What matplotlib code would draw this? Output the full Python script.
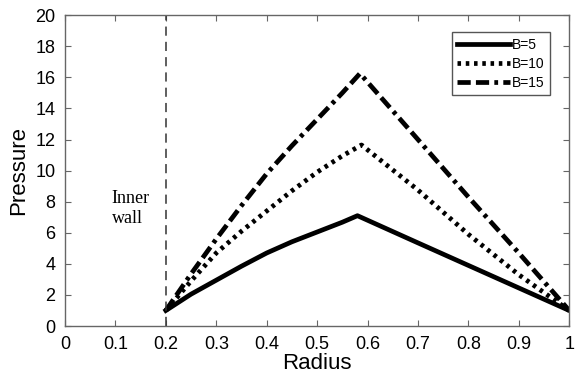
import matplotlib
matplotlib.use("Agg")
import matplotlib.pyplot as plt

# Radial pressure profiles for three values of B
radius_b5 = [0.2, 0.25, 0.3, 0.35, 0.4, 0.45, 0.5, 0.55, 0.58, 0.7, 0.8, 0.9, 1.0]
pressure_b5 = [1.0, 2.05, 2.95, 3.85, 4.7, 5.42, 6.05, 6.68, 7.1, 5.35, 3.9, 2.45, 1.0]

radius_b10 = [0.2, 0.25, 0.3, 0.35, 0.4, 0.45, 0.5, 0.55, 0.588, 0.7, 0.8, 0.9, 1.0]
pressure_b10 = [1.0, 2.9, 4.7, 6.1, 7.4, 8.7, 9.9, 10.95, 11.65, 8.75, 5.9, 3.3, 1.0]

radius_b15 = [0.2, 0.25, 0.3, 0.35, 0.4, 0.45, 0.5, 0.55, 0.585, 0.7, 0.8, 0.9, 1.0]
pressure_b15 = [1.0, 3.35, 5.6, 7.75, 9.8, 11.6, 13.3, 15.0, 16.25, 12.0, 8.3, 4.7, 1.0]

labels = ["B=5", "B=10", "B=15"]
wall_radius = 0.2

xticks = [0, 0.1, 0.2, 0.3, 0.4, 0.5, 0.6, 0.7, 0.8, 0.9, 1]
xticklabels = ["0", "0.1", "0.2", "0.3", "0.4", "0.5", "0.6", "0.7", "0.8", "0.9", "1"]
yticks = list(range(0, 21, 2))

plt.rcParams["font.family"] = ["Liberation Sans", "DejaVu Sans"]

fig = plt.figure(figsize=(5.75, 3.8), dpi=100)
ax = fig.add_axes([0.113, 0.142, 0.877, 0.818])

lw = 3.4
ax.plot(radius_b5, pressure_b5, color="black", lw=lw, solid_joinstyle="round",
        label=labels[0])
ax.plot(radius_b10, pressure_b10, color="black", lw=lw, linestyle=(0, (0.75, 1.0)),
        dash_capstyle="butt", label=labels[1])
ax.plot(radius_b15, pressure_b15, color="black", lw=lw,
        linestyle=(0, (2.8, 1.1, 2.8, 1.1, 0.8, 1.1)), dash_capstyle="butt",
        label=labels[2])

ax.axvline(wall_radius, color="#333333", lw=1.1, linestyle=(0, (6, 4)))
ax.text(0.093, 8.75, "Inner\nwall", family="Liberation Serif", fontsize=13,
        ha="left", va="top", linespacing=1.2)

ax.set_xlim(0, 1)
ax.set_ylim(0, 20)
ax.set_xticks(xticks)
ax.set_xticklabels(xticklabels)
ax.set_yticks(yticks)
ax.tick_params(direction="in", length=4, width=0.8, color="#666666",
               labelsize=13, top=True, right=True, pad=7)
for s in ax.spines.values():
    s.set_color("#666666")
    s.set_linewidth(1.0)

ax.set_xlabel("Radius", fontsize=16, labelpad=0)
ax.set_ylabel("Pressure", fontsize=16, labelpad=4)

leg = ax.legend(loc="upper right", bbox_to_anchor=(0.9625, 0.945), fontsize=10,
                handlelength=3.8, handletextpad=0.15, borderpad=0.4,
                labelspacing=0.35, fancybox=False, framealpha=1,
                edgecolor="#555555", borderaxespad=0)
leg.get_frame().set_linewidth(1.0)

fig.savefig("out.png", dpi=100)
